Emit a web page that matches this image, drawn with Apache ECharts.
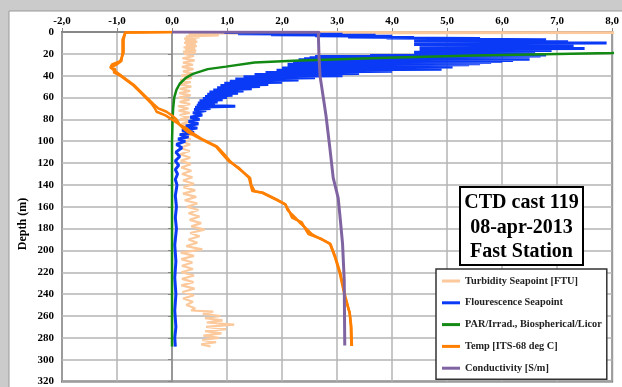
<!DOCTYPE html>
<html>
<head>
<meta charset="utf-8">
<script src="https://cdn.jsdelivr.net/npm/echarts@6/dist/echarts.min.js"></script>
<style>
  html, body { margin: 0; padding: 0; background: #cbcbcb; }
  #chart { width: 622px; height: 387px; }
</style>
</head>
<body>
<div id="chart"></div>
<script>
// CTD profile: x = value, y = depth (m)
const turbDepth = [0, 0.6, 1.2, 2, 3, 4,
  5, 6, 7, 8, 9, 10, 11, 12, 13, 14, 15, 16, 17, 18, 19, 20,
  22, 24, 26, 28, 30, 32, 34, 36, 38, 40,
  42, 44, 46, 48, 50, 52, 54, 56, 58, 60, 62, 64, 66, 68, 70, 72, 74, 76, 78, 80,
  82, 84, 86, 88, 90, 92, 94, 96, 98, 100,
  103, 106, 109, 112, 115, 118, 121, 124, 127, 130, 133, 136, 139, 142, 145, 148, 151, 154, 157, 160,
  163, 166, 169, 172, 175, 178, 181, 184, 187, 190, 193, 196, 199, 202, 205, 208, 211, 214, 217, 220,
  223, 226, 229, 232, 235, 238, 241, 244, 247, 250, 253, 255, 256, 258, 260, 262, 264, 266, 268, 270,
  272, 274, 276, 278, 280, 282, 284, 286, 288];
const turbValue = [0.2, 12, 0.85, 0.3, 0.85, 0.25,
  0.5, 0.22, 0.44, 0.24, 0.46, 0.22, 0.43, 0.25, 0.45, 0.21, 0.42, 0.24, 0.44, 0.2, 0.43, 0.22,
  0.4, 0.19, 0.41, 0.2, 0.38, 0.18, 0.39, 0.2, 0.37, 0.17,
  0.36, 0.15, 0.34, 0.13, 0.35, 0.14, 0.33, 0.13, 0.34, 0.12, 0.32, 0.14, 0.33, 0.11, 0.3, 0.12, 0.32, 0.14, 0.31, 0.15,
  0.34, 0.17, 0.36, 0.2, 0.38, 0.19, 0.36, 0.17, 0.34, 0.16,
  0.33, 0.14, 0.32, 0.15, 0.33, 0.16, 0.34, 0.17, 0.35, 0.18, 0.37, 0.2, 0.4, 0.21, 0.42, 0.2, 0.44, 0.23, 0.46, 0.27,
  0.48, 0.3, 0.5, 0.32, 0.53, 0.35, 0.59, 0.33, 0.5, 0.3, 0.46, 0.26, 0.55, 0.16, 0.4, 0.17, 0.37, 0.18, 0.38, 0.17,
  0.4, 0.18, 0.39, 0.17, 0.41, 0.19, 0.4, 0.2, 0.38, 0.26, 0.42, 0.35, 0.75, 0.56, 0.88, 0.6, 0.92, 0.63, 1.13, 0.62,
  0.98, 0.6, 0.9, 0.57, 0.85, 0.55, 0.8, 0.53, 0.7];

const fluorDepth = [0.5, 1, 1.5, 2, 2.5, 3, 3.5, 4, 4.5, 5, 5.5, 6, 6.5, 7, 7.5, 8, 8.5, 9, 9.5, 10,
  10.5, 11, 11.5, 12, 12.5, 13, 13.5, 14, 14.5, 15, 15.5, 16, 16.5, 17, 17.5, 18, 18.5, 19, 19.5, 20,
  20.5, 21, 21.5, 22, 22.5, 23, 23.5, 24, 24.5, 25, 25.5, 26, 26.5, 27, 27.5, 28, 28.5, 29, 29.5, 30,
  31, 32, 33, 34, 35, 36, 37, 38, 39, 40, 41, 42, 43, 44, 45, 46, 47, 48, 49, 50,
  51, 52, 53, 54, 55, 56, 57, 58, 59, 60, 61, 62, 63, 64, 65, 66, 67, 68, 69, 70,
  71, 72, 74, 76, 78, 80, 82, 84, 86, 88, 90, 92, 94, 96, 98, 100,
  103, 106, 110, 114, 118, 122, 126, 130, 135, 140, 150, 160, 170, 180, 195, 210, 225, 240, 255, 270, 280, 288];
const fluorValue = [0.95, 2.6, 1.2, 3.1, 1.8, 3.7, 2.6, 4.0, 3.2, 4.4, 3.9, 5.6, 4.5, 6.8, 4.5, 6.3, 4.4, 7.2, 4.5, 7.9,
  4.6, 7.0, 4.4, 6.8, 4.5, 7.3, 4.5, 6.5, 4.6, 7.5, 4.5, 6.6, 4.7, 6.9, 4.5, 6.6, 4.4, 6.4, 4.5, 6.6,
  4.4, 6.8, 3.6, 6.7, 2.6, 6.5, 2.5, 6.4, 2.4, 6.5, 2.3, 6.2, 2.3, 6.0, 2.2, 5.8, 2.2, 5.6, 2.1, 5.4,
  2.1, 5.1, 2.0, 4.9, 1.9, 4.0, 1.7, 3.4, 1.5, 3.1, 1.3, 2.6, 1.15, 2.3, 1.05, 2.0, 0.95, 1.75, 0.88, 1.6,
  0.82, 1.45, 0.75, 1.3, 0.68, 1.2, 0.64, 1.1, 0.6, 1.0, 0.56, 0.92, 0.5, 0.83, 0.47, 0.78, 0.45, 1.15, 0.42, 0.7,
  0.4, 0.62, 0.38, 0.55, 0.33, 0.5, 0.3, 0.48, 0.25, 0.46, 0.18, 0.4, 0.14, 0.3, 0.11, 0.24,
  0.08, 0.18, 0.07, 0.14, 0.06, 0.12, 0.06, 0.1, 0.06, 0.09, 0.06, 0.08, 0.06, 0.08, 0.05, 0.07, 0.05, 0.07, 0.05, 0.07, 0.05, 0.06];

const parDepth = [0, 10, 16, 19.3, 21.5, 23.5, 26.3, 28, 31.7, 34, 38.3, 42, 47.4, 53, 60, 70, 80, 100, 150, 200, 250, 288];
const parValue = [50, 18, 10.5, 8.0, 5.5, 3.9, 2.2, 1.5, 0.98, 0.65, 0.38, 0.25, 0.14, 0.08, 0.04, 0.02, 0.01, 0.0, 0.0, 0.0, 0.0, 0.0];

const tempDepth = [0, 0.5, 7, 19, 26.6, 29.6, 32.6, 34, 37, 40, 49, 58, 65.8, 70, 73, 76.4, 80, 85, 88, 92,
  97.5, 105, 112, 118.6, 124.6, 133.6, 140, 145.7, 147.2, 153.3, 157.8, 163, 169.9, 174.4, 180, 185, 189.5, 194,
  206, 221, 242, 257.4, 270, 287.5];
const tempDown = [0.0, -0.85, -0.88, -0.88, -0.94, -1.09, -1.12, -1.03, -1.06, -0.94, -0.7, -0.52, -0.37, -0.31, -0.28, -0.12, 0.0, 0.14, 0.2, 0.3,
  0.5, 0.8, 0.92, 1.04, 1.22, 1.4, 1.43, 1.46, 1.64, 1.88, 2.06, 2.12, 2.18, 2.36, 2.42, 2.48, 2.72, 2.87,
  2.96, 3.05, 3.14, 3.23, 3.25, 3.26];
const tempUp = [0.0, -0.85, -0.9, -0.9, -0.92, -1.0, -1.12, -1.12, -1.0, -0.92, -0.68, -0.5, -0.34, -0.25, -0.1, 0.0, 0.08, 0.14, 0.26, 0.36,
  0.53, 0.82, 0.95, 1.06, 1.2, 1.42, 1.44, 1.5, 1.66, 1.9, 2.06, 2.1, 2.24, 2.32, 2.44, 2.54, 2.7, 2.88,
  2.97, 3.06, 3.15, 3.23, 3.26, 3.27];

const condDepth = [0, 0.3, 2.4, 20, 40, 50, 60, 77, 106.5, 133.6, 151.8, 167, 194, 227, 287];
const condValue = [0.0, 2.68, 2.66, 2.67, 2.69, 2.72, 2.75, 2.8, 2.87, 2.93, 3.02, 3.05, 3.1, 3.13, 3.14];

const names = ['Turbidity Seapoint [FTU]', 'Flourescence Seapoint', 'PAR/Irrad., Biospherical/Licor',
  'Temp [ITS-68 deg C]', 'Conductivity [S/m]'];

function pairs(vals, depths) {
  return vals.map((v, i) => [v, depths[i]]);
}

const serif = '"Liberation Serif", "Times New Roman", serif';
const chart = echarts.init(document.getElementById('chart'));

function line(name, data, color, width, z) {
  return {
    name: name,
    type: 'line',
    data: data,
    showSymbol: false,
    symbol: 'none',
    z: z,
    lineStyle: { color: color, width: width },
    itemStyle: { color: color }
  };
}

chart.setOption({
  backgroundColor: '#cbcbcb',
  animation: false,
  grid: {
    left: 62, right: 6, top: 32, bottom: 1,
    show: true, backgroundColor: '#fff', borderColor: '#555', borderWidth: 2
  },
  xAxis: {
    type: 'value',
    position: 'top',
    min: -2, max: 8, interval: 1,
    axisLine: { show: true, lineStyle: { color: '#888', width: 2 } },
    axisTick: { show: true, length: 4, lineStyle: { color: '#888' } },
    axisLabel: {
      margin: 5,
      fontFamily: serif, fontWeight: 'bold', fontSize: 11, color: '#000',
      formatter: v => v.toFixed(1).replace('.', ',')
    },
    splitLine: { lineStyle: { color: '#b4b4b4', width: 1.5 } }
  },
  yAxis: {
    type: 'value',
    inverse: true,
    min: 0, max: 320, interval: 20,
    axisLine: { show: true, lineStyle: { color: '#888', width: 1.5 } },
    axisTick: { show: true, length: 4, lineStyle: { color: '#888' } },
    axisLabel: { margin: 8, fontFamily: serif, fontWeight: 'bold', fontSize: 11, color: '#000' },
    splitLine: { lineStyle: { color: '#b4b4b4', width: 1.5 } }
  },
  legend: {
    data: names,
    orient: 'vertical',
    left: 436, top: 269,
    padding: [5, 5, 4, 6],
    itemGap: 7.8,
    itemWidth: 18, itemHeight: 3,
    icon: 'rect',
    backgroundColor: '#fff',
    borderColor: '#333', borderWidth: 1.5,
    textStyle: { fontFamily: serif, fontWeight: 'bold', fontSize: 10.3, lineHeight: 14, color: '#222' }
  },
  graphic: [
    { type: 'rect', z: -10, silent: true,
      shape: { x: 9, y: 11, width: 620, height: 380 },
      style: { fill: '#fff', stroke: '#999', lineWidth: 1 } },
    { type: 'text', x: 23, y: 224, rotation: Math.PI / 2,
      style: { text: 'Depth (m)', font: 'bold 12px ' + serif, fill: '#000',
        align: 'center', textAlign: 'center', verticalAlign: 'middle', textVerticalAlign: 'middle' } },
    { type: 'rect', z: 100,
      shape: { x: 460, y: 187, width: 123, height: 78 },
      style: { fill: '#fff', stroke: '#000', lineWidth: 2 } },
    { type: 'text', z: 101, x: 521.5, y: 190.75,
      style: { text: 'CTD cast 119\n08-apr-2013\nFast Station', font: 'bold 20px ' + serif, fill: '#000',
        lineHeight: 24.5, align: 'center', textAlign: 'center', verticalAlign: 'top', textVerticalAlign: 'top' } }
  ],
  series: [
    line(names[0], pairs(turbValue, turbDepth), '#fcc99c', 2.2, 2),
    line(names[1], pairs(fluorValue, fluorDepth), '#0a3af5', 3, 3),
    line(names[2], pairs(parValue, parDepth), '#138a13', 2.5, 4),
    line(names[3], pairs(tempDown, tempDepth), '#ff7f00', 2.5, 5),
    line(names[3], pairs(tempUp, tempDepth), '#ff7f00', 2.5, 5),
    line(names[4], pairs(condValue, condDepth), '#8064a2', 3, 6)
  ]
});
</script>
</body>
</html>
